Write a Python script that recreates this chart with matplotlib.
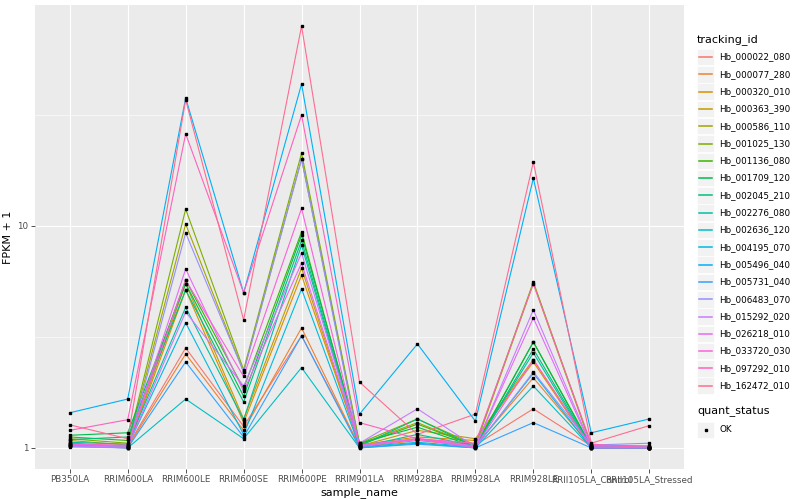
import numpy as np
import matplotlib
matplotlib.use('Agg')
import matplotlib.pyplot as plt
from matplotlib.patches import Rectangle
from matplotlib.lines import Line2D

samples = ['PB350LA', 'RRIM600LA', 'RRIM600LE', 'RRIM600SE', 'RRIM600PE',
           'RRIM901LA', 'RRIM928BA', 'RRIM928LA', 'RRIM928LE',
           'RRII105LA_Control', 'RRII105LA_Stressed']

tracking_ids = ['Hb_000022_080', 'Hb_000077_280', 'Hb_000320_010', 'Hb_000363_390',
                'Hb_000586_110', 'Hb_001025_130', 'Hb_001136_080', 'Hb_001709_120',
                'Hb_002045_210', 'Hb_002276_080', 'Hb_002636_120', 'Hb_004195_070',
                'Hb_005496_040', 'Hb_005731_040', 'Hb_006483_070', 'Hb_015292_020',
                'Hb_026218_010', 'Hb_033720_030', 'Hb_097292_010', 'Hb_162472_010']

# ggplot default hue palette, 20 levels
colors = ['#F8766D', '#EA8331', '#D89000', '#C09B00', '#A3A500', '#7CAE00',
          '#39B600', '#00BB4E', '#00BF7D', '#00C1A3', '#00BFC4', '#00BAE0',
          '#00B0F6', '#35A2FF', '#9590FF', '#C77CFF', '#E76BF3', '#FA62DB',
          '#FF62BC', '#FF6C91']

# FPKM + 1, one list per tracking_id, in sample order
fpkm = [
    [1.05, 1.02, 2.82, 1.25, 3.20, 1.02, 1.10, 1.03, 1.50, 1.02, 1.01],
    [1.03, 1.01, 2.65, 1.20, 3.47, 1.01, 1.08, 1.02, 2.07, 1.01, 1.00],
    [1.02, 1.00, 5.15, 1.30, 6.00, 1.03, 1.12, 1.08, 2.44, 1.00, 1.00],
    [1.04, 1.01, 5.50, 1.35, 6.46, 1.02, 1.20, 1.10, 2.50, 1.01, 1.00],
    [1.08, 1.03, 10.2, 2.20, 20.0, 1.04, 1.30, 1.02, 5.50, 1.02, 1.01],
    [1.10, 1.05, 11.9, 2.25, 21.3, 1.05, 1.35, 1.03, 5.60, 1.03, 1.02],
    [1.12, 1.08, 5.70, 1.85, 9.40, 1.03, 1.28, 1.02, 3.00, 1.02, 1.01],
    [1.14, 1.17, 5.50, 1.71, 9.10, 1.05, 1.24, 1.01, 3.00, 1.01, 1.00],
    [1.09, 1.12, 5.15, 1.61, 8.60, 1.02, 1.35, 1.01, 2.79, 1.01, 1.00],
    [1.06, 1.04, 4.30, 1.34, 8.20, 1.01, 1.15, 1.02, 2.68, 1.00, 1.00],
    [1.05, 1.00, 1.66, 1.10, 2.30, 1.00, 1.05, 1.00, 1.90, 1.00, 1.00],
    [1.03, 1.02, 3.66, 1.15, 5.20, 1.01, 1.06, 1.01, 2.17, 1.00, 1.00],
    [1.44, 1.66, 37.7, 5.00, 43.6, 1.42, 2.94, 1.32, 16.4, 1.17, 1.35],
    [1.02, 1.00, 2.44, 1.12, 3.20, 1.00, 1.04, 1.00, 1.30, 1.00, 1.00],
    [1.01, 1.00, 9.30, 2.20, 20.0, 1.01, 1.10, 1.00, 2.20, 1.03, 1.05],
    [1.02, 1.01, 4.10, 1.90, 7.55, 1.05, 1.50, 1.01, 4.19, 1.02, 1.02],
    [1.04, 1.02, 6.40, 1.80, 6.80, 1.03, 1.10, 1.02, 3.85, 1.01, 1.01],
    [1.03, 1.03, 5.70, 2.10, 12.0, 1.02, 1.09, 1.01, 2.50, 1.00, 1.00],
    [1.20, 1.34, 26.0, 5.00, 31.6, 1.30, 1.10, 1.05, 5.50, 1.04, 1.00],
    [1.27, 1.10, 37.0, 3.77, 79.5, 1.98, 1.15, 1.42, 19.4, 1.05, 1.26],
]

fig = plt.figure(figsize=(8, 5), dpi=100)
ax = fig.add_axes([35/800, 31/500, 649/800, 464/500])
ax.set_facecolor('#EBEBEB')
for s in ax.spines.values():
    s.set_visible(False)

x = np.arange(1, len(samples) + 1)
for vals, c in zip(fpkm, colors):
    ax.plot(x, vals, color=c, lw=0.8, zorder=3)
for vals in fpkm:
    ax.plot(x, vals, ls='none', marker='s', ms=2.0, color='black', zorder=4)

ax.set_yscale('log')
allv = np.log10(np.array(fpkm))
lo, hi = allv.min(), allv.max()
pad = (hi - lo) * 0.05
ax.set_ylim(10**(lo - pad), 10**(hi + pad))
ax.set_xlim(0.4, len(samples) + 0.6)

ax.set_yticks([1, 10])
ax.set_yticklabels(['1', '10'])
ax.set_yticks([10**0.5, 10**1.5], minor=True)
ax.yaxis.set_minor_formatter(plt.NullFormatter())
ax.set_xticks(x)
ax.set_xticklabels(samples)
ax.tick_params(axis='both', which='major', length=2.6, width=0.6, color='#333333',
               labelsize=6.3, labelcolor='#4D4D4D', pad=2)
ax.tick_params(axis='y', which='minor', length=0)
ax.grid(True, which='major', color='white', lw=0.8)
ax.grid(True, which='minor', axis='y', color='white', lw=0.4)
ax.set_axisbelow(True)

ax.set_xlabel('sample_name', fontsize=8, labelpad=2)
ax.set_ylabel('FPKM + 1', fontsize=8, labelpad=3)

# legend drawn in pixel coordinates
lg = fig.add_axes([0, 0, 1, 1], facecolor='none')
lg.set_xlim(0, 800)
lg.set_ylim(500, 0)
lg.axis('off')
lg.text(697, 40, 'tracking_id', fontsize=8, va='center', ha='left')
for i, (name, c) in enumerate(zip(tracking_ids, colors)):
    yc = 57 + i * 17.3
    lg.add_patch(Rectangle((697, yc - 8.3), 17, 16.6, facecolor='#F2F2F2',
                           edgecolor='white', lw=0.5, zorder=1))
    lg.add_line(Line2D([699, 712], [yc, yc], color=c, lw=1.1, zorder=3))
    lg.text(719, yc, name, fontsize=6.3, va='center', ha='left')

lg.text(697, 412, 'quant_status', fontsize=8, va='center', ha='left')
lg.add_patch(Rectangle((697, 430 - 8.3), 17, 16.6, facecolor='#F2F2F2',
                       edgecolor='white', lw=0.5, zorder=1))
lg.plot([705.5], [430], marker='s', ms=2.0, color='black', zorder=3)
lg.text(719, 430, 'OK', fontsize=6.3, va='center', ha='left')

fig.savefig('out.png', dpi=100)
